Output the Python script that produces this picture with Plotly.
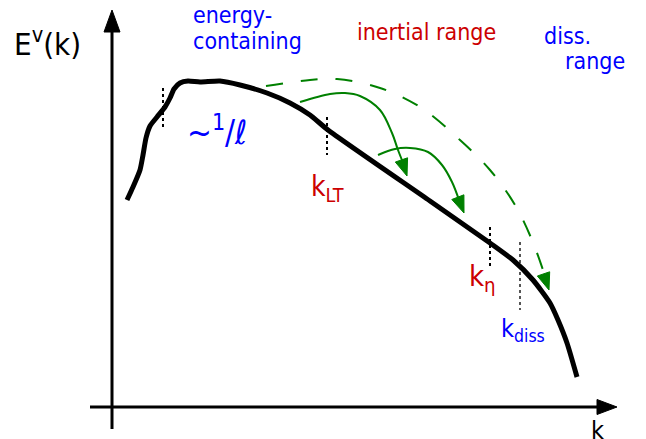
import numpy as np
import plotly.graph_objects as go

# ---- data (schematic spectrum, in figure-like coordinates: k to the right, E on a reversed axis) ----
k_curve = [127, 133, 140, 143, 146, 150, 157, 165, 170, 174, 180, 188, 200, 220, 240, 267, 290, 310, 328,
           430, 490, 513, 533, 550, 558, 567, 577]
E_curve = [200, 187, 170, 155, 138, 126, 117, 107, 98, 89, 83, 81, 82, 81, 85, 93, 103, 115, 130,
           201, 243, 260, 280, 303, 320, 343, 377]

# dotted markers: k position, top, bottom
mark_k = [163, 327, 490, 520]
mark_top = [88, 117, 227, 242]
mark_bot = [127, 155, 267, 310]
mark_col = ["black", "black", "black", "#555555"]

# green cascade arrows
arc1_k = [300, 330, 345, 360, 380, 392, 398, 404]
arc1_E = [102, 94, 93, 96, 110, 133, 150, 165]
arc2_k = [378, 395, 410, 428, 442, 452, 459]
arc2_E = [155, 149, 148, 152, 165, 182, 200]
dash_k = [266, 310, 337, 380, 420, 460, 490, 515, 532, 543]
dash_E = [86, 80, 79, 88, 107, 140, 170, 205, 240, 270]

# texts
labels = [
    dict(t="E<sup>v</sup>(k)", k=12, E=42, size=31, color="black"),
    dict(t="energy-", k=191, E=15, size=23, color="#0000ff"),
    dict(t="containing", k=191, E=41, size=23, color="#0000ff"),
    dict(t="inertial range", k=355, E=32, size=23, color="#cc0000"),
    dict(t="diss.", k=542, E=36, size=23, color="#0000ff"),
    dict(t="range", k=563, E=61, size=23, color="#0000ff"),
    dict(t="~<sup>1</sup>/ℓ", k=185, E=130, size=33, color="#0000ff"),
    dict(t="k<sub>LT</sub>", k=309, E=188, size=28, color="#cc0000"),
    dict(t="k<sub>η</sub>", k=467, E=278, size=29, color="#cc0000"),
    dict(t="k<sub>diss</sub>", k=499, E=330, size=25, color="#0000ff"),
    dict(t="k", k=589, E=430, size=25, color="black"),
]
FONT = "DejaVu Sans Condensed, DejaVu Sans"

fig = go.Figure()

def tri(tip, frm, length=16, width=13):
    tip = np.array(tip, float); frm = np.array(frm, float)
    d = tip - frm; d /= np.linalg.norm(d)
    n = np.array([-d[1], d[0]])
    base = tip - d * length
    p1 = base + n * width / 2
    p2 = base - n * width / 2
    return [p1[0], tip[0], p2[0], p1[0]], [p1[1], tip[1], p2[1], p1[1]]

# axes
fig.add_trace(go.Scatter(x=[112, 112], y=[429, 28], mode="lines", line=dict(color="black", width=3)))
fig.add_trace(go.Scatter(x=[90, 600], y=[407, 407], mode="lines", line=dict(color="black", width=3)))
xs, ys = tri((112, 10), (112, 40), length=22, width=16)
fig.add_trace(go.Scatter(x=xs, y=ys, mode="lines", fill="toself", fillcolor="black", line=dict(color="black", width=1)))
xs, ys = tri((617, 407), (590, 407), length=20, width=15)
fig.add_trace(go.Scatter(x=xs, y=ys, mode="lines", fill="toself", fillcolor="black", line=dict(color="black", width=1)))

# green arrows
green = "#008000"
for ak, aE, dash, tip in [(arc1_k, arc1_E, "solid", (407, 176)), (arc2_k, arc2_E, "solid", (464, 213)),
                          (dash_k, dash_E, "17px,18px", (549, 290))]:
    fig.add_trace(go.Scatter(x=ak, y=aE, mode="lines", line=dict(color=green, width=2, dash=dash, shape="spline")))
    xs, ys = tri(tip, (ak[-2], aE[-2]), length=17, width=13)
    fig.add_trace(go.Scatter(x=xs, y=ys, mode="lines", fill="toself", fillcolor=green, line=dict(color=green, width=1)))

# dotted markers
for k, a, b, c in zip(mark_k, mark_top, mark_bot, mark_col):
    fig.add_trace(go.Scatter(x=[k, k], y=[a, b], mode="lines", line=dict(color=c, width=2, dash="dot")))

# spectrum
fig.add_trace(go.Scatter(x=k_curve, y=E_curve, mode="lines",
                         line=dict(color="black", width=5, shape="spline", smoothing=0.6)))

for L in labels:
    fig.add_annotation(x=L["k"], y=L["E"], text=L["t"], showarrow=False, xanchor="left", yanchor="middle",
                       font=dict(family=FONT, size=L["size"], color=L["color"]))

# page body has an 8px margin, so the axis ranges are shifted by 8 units
fig.update_layout(width=646, height=439, margin=dict(l=0, r=0, t=0, b=0), showlegend=False,
                  plot_bgcolor="white", paper_bgcolor="white",
                  xaxis=dict(range=[8, 654], visible=False, fixedrange=True),
                  yaxis=dict(range=[447, 8], visible=False, fixedrange=True))
fig.write_html("out.html")
